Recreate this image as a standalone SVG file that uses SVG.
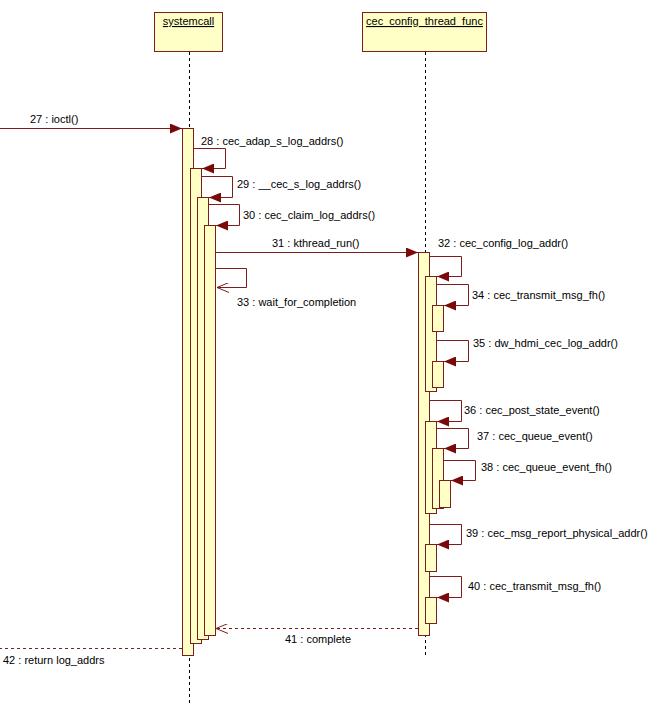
<svg xmlns="http://www.w3.org/2000/svg" width="651" height="703" viewBox="0 0 651 703">
<style>
.box{fill:#ffffc6;stroke:#7a1e1e;stroke-width:1}
.act{fill:#ffffc6;stroke:#7a1e1e;stroke-width:1}
.life{stroke:#000;stroke-dasharray:3,3;stroke-width:1}
.msg{fill:none;stroke:#7a1e1e;stroke-width:1}
.ret{fill:none;stroke:#7a1e1e;stroke-width:1;stroke-dasharray:3,3}
text{font-family:"Liberation Sans",Arial,sans-serif;font-size:11px;fill:#000}
.t{text-decoration:underline}
</style>
<defs>
<marker id="f" markerWidth="12" markerHeight="10" refX="12" refY="5" orient="auto" markerUnits="userSpaceOnUse"><path d="M0,0L12,5L0,10z" fill="#7a0a0a"/></marker>
<marker id="o" markerWidth="12" markerHeight="10" refX="12" refY="5" orient="auto" markerUnits="userSpaceOnUse"><path d="M0,0L12,5L0,10" fill="none" stroke="#7a1e1e"/></marker>
</defs>
<g id="systemcall">
<rect class="box" x="154.5" y="12.5" width="68" height="39"/>
<text class="t" x="188.5" y="25" text-anchor="middle">systemcall</text>
<line class="life" x1="189.5" y1="52" x2="189.5" y2="703"/>
<rect class="act" x="182.5" y="128.5" width="11" height="527"/>
<rect class="act" x="190.5" y="168.5" width="11" height="475"/>
<rect class="act" x="197.5" y="197.5" width="11" height="442"/>
<rect class="act" x="204.5" y="225.5" width="11" height="410"/>
</g>
<g id="cec_config_thread_func">
<rect class="box" x="362.5" y="12.5" width="124" height="39"/>
<text class="t" x="424.5" y="25" text-anchor="middle">cec_config_thread_func</text>
<line class="life" x1="425.5" y1="52" x2="425.5" y2="655"/>
<rect class="act" x="418.5" y="252.5" width="11" height="383"/>
<rect class="act" x="425.5" y="276.5" width="11" height="115"/>
<rect class="act" x="432.5" y="305.5" width="11" height="26"/>
<rect class="act" x="432.5" y="361.5" width="11" height="26"/>
<rect class="act" x="425.5" y="421.5" width="11" height="92"/>
<rect class="act" x="432.5" y="448.5" width="11" height="60"/>
<rect class="act" x="439.5" y="480.5" width="11" height="27"/>
<rect class="act" x="425.5" y="544.5" width="11" height="27"/>
<rect class="act" x="425.5" y="597.5" width="11" height="26"/>
</g>
<g id="connectors">
<line class="msg" x1="0" y1="128.5" x2="182" y2="128.5" marker-end="url(#f)"/>
<path class="msg" d="M194,148.5H225.5V168.5H202" marker-end="url(#f)"/>
<path class="msg" d="M202,176.5H232.5V197.5H209" marker-end="url(#f)"/>
<path class="msg" d="M209,204.5H239.5V225.5H216" marker-end="url(#f)"/>
<line class="msg" x1="216" y1="252.5" x2="418" y2="252.5" marker-end="url(#f)"/>
<path class="msg" d="M216,268.5H246.5V287.5H217" marker-end="url(#o)"/>
<path class="msg" d="M430,256.5H461.5V276.5H437" marker-end="url(#f)"/>
<path class="msg" d="M437,284.5H468.5V305.5H444" marker-end="url(#f)"/>
<path class="msg" d="M437,340.5H468.5V361.5H444" marker-end="url(#f)"/>
<path class="msg" d="M430,400.5H461.5V421.5H437" marker-end="url(#f)"/>
<path class="msg" d="M437,428.5H468.5V448.5H444" marker-end="url(#f)"/>
<path class="msg" d="M444,460.5H475.5V480.5H451" marker-end="url(#f)"/>
<path class="msg" d="M430,524.5H461.5V544.5H437" marker-end="url(#f)"/>
<path class="msg" d="M430,576.5H461.5V597.5H437" marker-end="url(#f)"/>
<line class="ret" x1="418" y1="628.5" x2="216" y2="628.5" marker-end="url(#o)"/>
<line class="ret" x1="182" y1="648.5" x2="0" y2="648.5"/>
</g>
<g id="labels">
<text x="30" y="123">27 : ioctl()</text>
<text x="201" y="145">28 : cec_adap_s_log_addrs()</text>
<text x="237" y="188">29 : __cec_s_log_addrs()</text>
<text x="243" y="219">30 : cec_claim_log_addrs()</text>
<text x="272" y="247">31 : kthread_run()</text>
<text x="438" y="247">32 : cec_config_log_addr()</text>
<text x="237" y="306">33 : wait_for_completion</text>
<text x="472" y="299">34 : cec_transmit_msg_fh()</text>
<text x="473" y="347">35 : dw_hdmi_cec_log_addr()</text>
<text x="464" y="414">36 : cec_post_state_event()</text>
<text x="477" y="440">37 : cec_queue_event()</text>
<text x="481" y="471">38 : cec_queue_event_fh()</text>
<text x="466" y="537">39 : cec_msg_report_physical_addr()</text>
<text x="468" y="590">40 : cec_transmit_msg_fh()</text>
<text x="285" y="643">41 : complete</text>
<text x="3" y="664">42 : return log_addrs</text>
</g>
</svg>
